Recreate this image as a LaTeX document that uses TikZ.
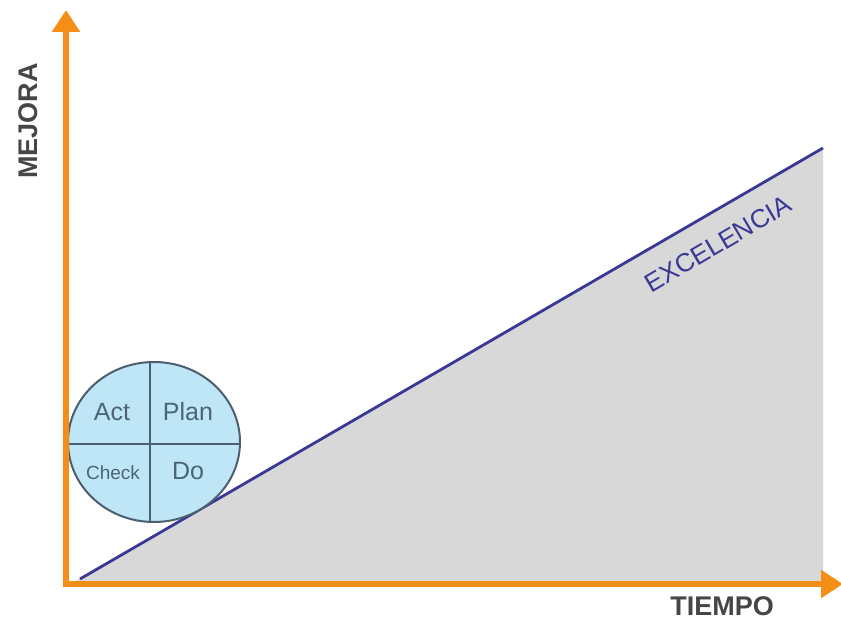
\documentclass[tikz,border=0pt]{standalone}
\usepackage{fontspec}
\setmainfont{Liberation Sans}
\usetikzlibrary{arrows.meta}
\definecolor{axisorange}{RGB}{245,142,22}
\definecolor{exblue}{RGB}{58,56,150}
\definecolor{areagray}{RGB}{216,216,216}
\definecolor{pdcafill}{RGB}{190,230,246}
\definecolor{pdcaline}{RGB}{75,95,110}
\definecolor{pdcatext}{RGB}{75,100,120}
\definecolor{labelgray}{RGB}{70,70,70}
\tikzset{
  axis/.style={draw=axisorange, line width=5.5pt, -{Triangle[width=27pt,length=22pt]}},
  axislabel/.style={text=labelgray, font=\fontsize{27}{30}\selectfont\bfseries, inner sep=0pt},
  pdcalabel/.style={text=pdcatext, font=\fontsize{25}{28}\selectfont, inner sep=0pt},
}
\begin{document}
\begin{tikzpicture}[x=1pt,y=-1pt]
\useasboundingbox (0,0) rectangle (841,620);
% gray area
\coordinate (o) at (72,583);
\coordinate (top) at (823,148);
\coordinate (br) at (823,583);
\fill[areagray] (o) -- (top) -- (br) -- cycle;
% excellence line
\coordinate (ls) at (80,579);
\draw[exblue, line width=2.8pt] (ls) -- (top);
\node[text=exblue, font=\fontsize{26}{28}\selectfont, rotate=30.4, inner sep=0pt] (exc) at (718,244) {EXCELENCIA};
% PDCA circle
\coordinate (c) at (154,442);
\draw[pdcaline, fill=pdcafill, line width=2pt] (c) ellipse [x radius=86, y radius=80];
\coordinate (vt) at (150,362);
\coordinate (vb) at (150,522);
\coordinate (hl) at (68,444);
\coordinate (hr) at (240,444);
\draw[pdcaline, line width=2pt] (vt) -- (vb);
\draw[pdcaline, line width=2pt] (hl) -- (hr);
\node[pdcalabel] (act) at (112,412) {Act};
\node[pdcalabel] (plan) at (188,412) {Plan};
\node[pdcalabel, font=\fontsize{19}{22}\selectfont] (check) at (113,473) {Check};
\node[pdcalabel] (do) at (188,471) {Do};
% axes
\coordinate (origin) at (66,584);
\coordinate (ytip) at (66,10);
\coordinate (xtip) at (843,584);
\draw[axis] ([yshift=2.75pt]origin) -- (ytip);
\draw[axis] ([xshift=-2.75pt]origin) -- (xtip);
\node[axislabel, rotate=90] (mejora) at (28,121) {MEJORA};
\node[axislabel] (tiempo) at (722,606) {TIEMPO};
\end{tikzpicture}
\end{document}
